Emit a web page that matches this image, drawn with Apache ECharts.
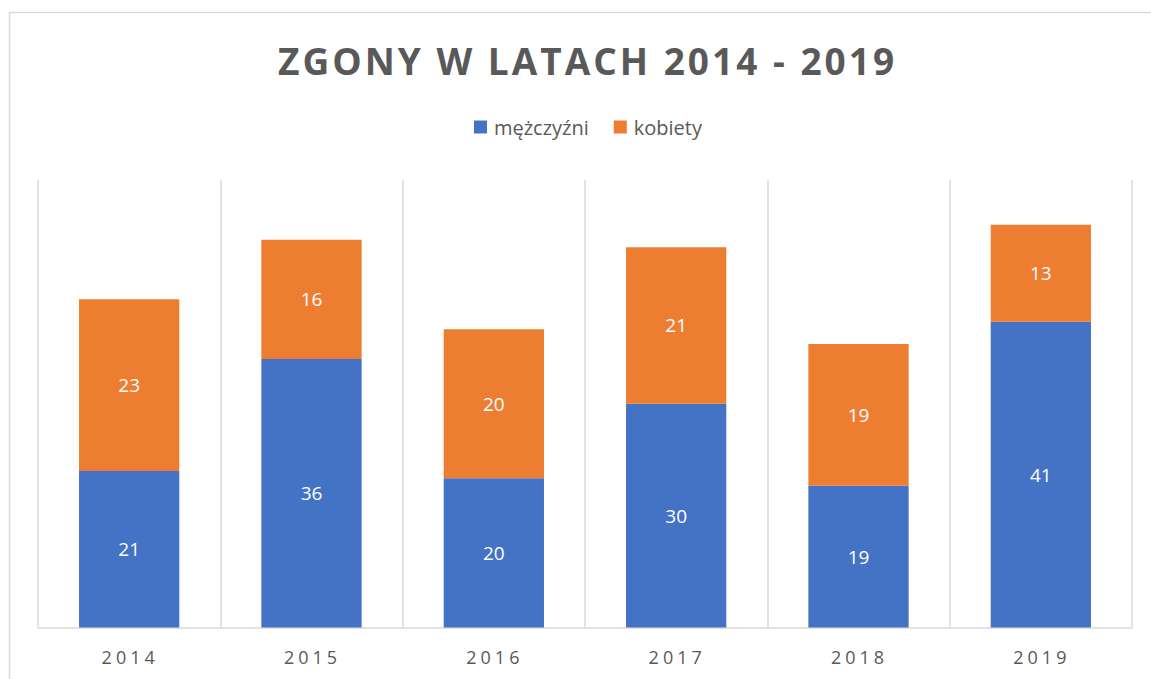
<!DOCTYPE html>
<html>
<head>
<meta charset="utf-8">
<script src="https://cdn.jsdelivr.net/npm/echarts@6/dist/echarts.min.js"></script>
<style>
  html, body { margin: 0; padding: 0; background: #fff; }
  #main { width: 1151px; height: 679px; }
  /* excel-like spaced lettering for the title and the year labels */
  #main svg text[style*="bold"] { letter-spacing: 3px; }
  #main svg text[style*="18px"] { letter-spacing: 4px; }
</style>
</head>
<body>
<div id="main"></div>
<script>
var years = ['2014', '2015', '2016', '2017', '2018', '2019'];
var men = [21, 36, 20, 30, 19, 41];
var women = [23, 16, 20, 21, 19, 13];

var myChart = echarts.init(document.getElementById('main'), null, { renderer: 'svg' });
var gray = '#595959';
var font = '"Open Sans", sans-serif';

myChart.setOption({
    animation: false,
    backgroundColor: '#fff',
    graphic: [{
        type: 'rect',
        shape: { x: 9.5, y: 12.5, width: 1160, height: 700 },
        style: { fill: 'none', stroke: '#d9d9d9', lineWidth: 1.5 },
        silent: true
    }],
    title: {
        text: 'ZGONY W LATACH 2014 - 2019',
        left: 273,
        top: 37,
        textStyle: { color: gray, fontFamily: font, fontWeight: 'bold', fontSize: 37 }
    },
    legend: {
        top: 112,
        left: 469,
        itemWidth: 13,
        itemHeight: 13,
        itemGap: 25,
        icon: 'rect',
        textStyle: { color: gray, fontFamily: font, fontSize: 20, padding: [0, 0, 0, 2] },
        data: ['mężczyźni', 'kobiety']
    },
    grid: { left: 38, right: 19, top: 180, bottom: 51.5, containLabel: false },
    xAxis: {
        type: 'category',
        data: years,
        axisLine: { lineStyle: { color: '#d9d9d9', width: 1.5 } },
        axisTick: { show: false },
        splitLine: { show: true, lineStyle: { color: '#d9d9d9', width: 1.5 } },
        axisLabel: { color: gray, fontFamily: font, fontSize: 18, margin: 20, padding: [0, 0, 0, 2] }
    },
    yAxis: {
        type: 'value',
        min: 0,
        max: 60,
        interval: 10,
        show: false
    },
    series: [
        {
            name: 'mężczyźni',
            type: 'bar',
            stack: 'total',
            barWidth: '55%',
            data: men,
            itemStyle: { color: '#4472C4' },
            label: { show: true, position: 'inside', color: '#fff', fontFamily: font, fontSize: 19 }
        },
        {
            name: 'kobiety',
            type: 'bar',
            stack: 'total',
            barWidth: '55%',
            data: women,
            itemStyle: { color: '#ED7D31' },
            label: { show: true, position: 'inside', color: '#fff', fontFamily: font, fontSize: 19 }
        }
    ]
});
</script>
</body>
</html>
